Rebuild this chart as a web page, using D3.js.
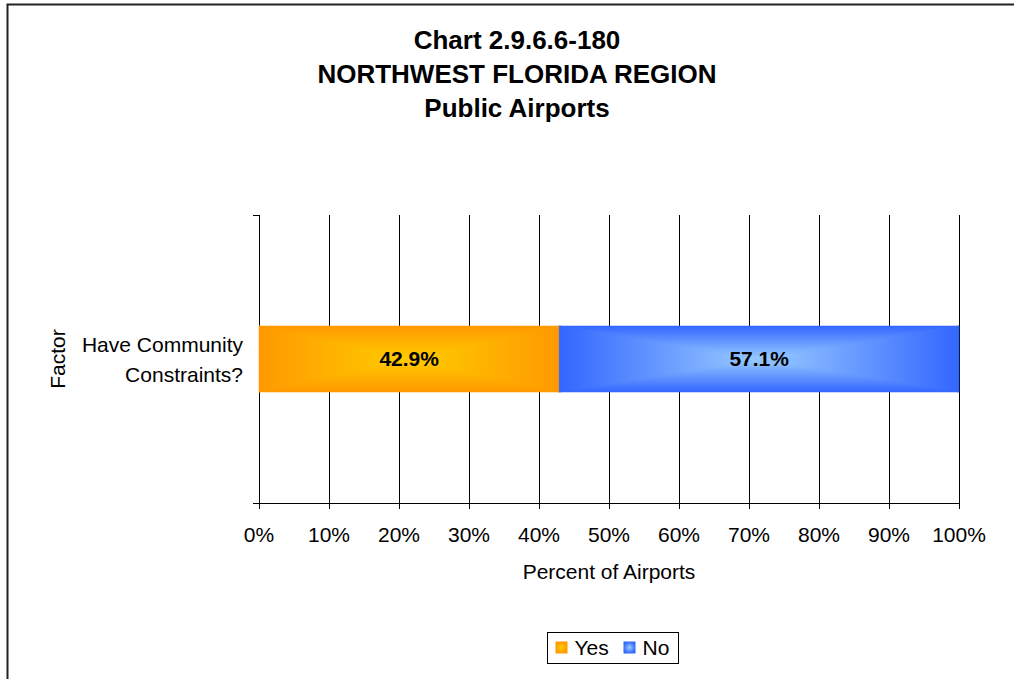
<!DOCTYPE html>
<html>
<head>
    <title>Chart 2.9.6.6-180</title>
    <script src="https://d3js.org/d3.v7.min.js"></script>
    <style>
        body {
            margin: 0;
            background: #fff;
            font-family: "Liberation Sans", Arial, sans-serif;
            overflow: hidden;
        }
        svg {
            display: block;
        }
        .grid line {
            stroke: #000;
            stroke-width: 1;
        }
        .tick-label {
            font-size: 21px;
            fill: #000;
        }
        .title {
            font-size: 26px;
            font-weight: bold;
            text-anchor: middle;
        }
        .bar-label {
            font-size: 21px;
            font-weight: bold;
            text-anchor: middle;
        }
    </style>
</head>
<body>
    <div id="chart"></div>

    <script>
        // Data
        const titleLines = ["Chart 2.9.6.6-180", "NORTHWEST FLORIDA REGION", "Public Airports"];
        const categories = ["Have Community Constraints?"];
        const categoryLines = [["Have Community", "Constraints?"]];
        const seriesNames = ["Yes", "No"];
        const yesValues = [42.9];
        const noValues = [57.1];
        const xTicks = [0, 10, 20, 30, 40, 50, 60, 70, 80, 90, 100];
        const xTickLabels = ["0%", "10%", "20%", "30%", "40%", "50%", "60%", "70%", "80%", "90%", "100%"];
        const seriesColors = [
            {edge: "#ff9900", center: "#ffcc00"},
            {edge: "#3366ff", center: "#99ccff"}
        ];

        const width = 1014;
        const height = 679;
        const margin = {top: 215, right: 55, bottom: 176, left: 259};
        const innerWidth = width - margin.left - margin.right;
        const innerHeight = height - margin.top - margin.bottom;

        const svg = d3.select("#chart").append("svg")
            .attr("width", width)
            .attr("height", height);

        const defs = svg.append("defs");

        // outer frame (only left and top edges are visible)
        svg.append("path")
            .attr("d", `M7.5,${height}V4.5H${width}`)
            .attr("fill", "none")
            .attr("stroke", "#222")
            .attr("stroke-width", 2);

        // title
        svg.selectAll(".title")
            .data(titleLines)
            .enter()
            .append("text")
            .attr("class", "title")
            .attr("x", 517)
            .attr("y", (d, i) => 49 + i * 34)
            .text(d => d);

        const g = svg.append("g")
            .attr("transform", `translate(${margin.left},${margin.top})`);

        const x = d3.scaleLinear()
            .domain([0, 100])
            .range([0, innerWidth]);

        const y = d3.scaleBand()
            .domain(categories)
            .range([0, innerHeight])
            .padding(0.627);

        // vertical gridlines (extend below axis as ticks)
        g.append("g")
            .attr("class", "grid")
            .selectAll("line")
            .data(xTicks)
            .enter()
            .append("line")
            .attr("x1", d => Math.round(x(d)) + 0.5)
            .attr("x2", d => Math.round(x(d)) + 0.5)
            .attr("y1", 0)
            .attr("y2", innerHeight + 6);

        // y axis ticks at category boundaries
        g.append("g")
            .attr("class", "grid")
            .selectAll("line")
            .data([0, innerHeight])
            .enter()
            .append("line")
            .attr("x1", -6)
            .attr("x2", 0.5)
            .attr("y1", d => d + 0.5)
            .attr("y2", d => d + 0.5);

        // x axis line
        g.append("line")
            .attr("x1", -6)
            .attr("x2", innerWidth + 0.5)
            .attr("y1", innerHeight + 0.5)
            .attr("y2", innerHeight + 0.5)
            .attr("stroke", "#000");

        // tick labels
        g.selectAll(".xlabel")
            .data(xTicks)
            .enter()
            .append("text")
            .attr("class", "tick-label")
            .attr("x", d => x(d))
            .attr("y", innerHeight + 39)
            .attr("text-anchor", "middle")
            .text((d, i) => xTickLabels[i]);

        // stacked segments
        const stacked = categories.map((c, i) => {
            const vals = [yesValues[i], noValues[i]];
            let acc = 0;
            return vals.map((v, s) => {
                const seg = {cat: c, series: s, x0: acc, x1: acc + v, value: v};
                acc += v;
                return seg;
            });
        }).flat();

        // rectangular "from center" gradient built of four triangles
        stacked.forEach((d, k) => {
            const x0 = x(d.x0), x1 = x(d.x1);
            const y0 = y(d.cat), y1 = y(d.cat) + y.bandwidth();
            const cx = (x0 + x1) / 2, cy = (y0 + y1) / 2;
            const col = seriesColors[d.series];

            const parts = [
                {pts: [[x0, y0], [x1, y0], [cx, cy]], from: [cx, y0]},
                {pts: [[x0, y1], [x1, y1], [cx, cy]], from: [cx, y1]},
                {pts: [[x0, y0], [x0, y1], [cx, cy]], from: [x0, cy]},
                {pts: [[x1, y0], [x1, y1], [cx, cy]], from: [x1, cy]}
            ];

            g.append("rect")
                .attr("x", x0)
                .attr("y", y0)
                .attr("width", x1 - x0)
                .attr("height", y1 - y0)
                .attr("fill", col.edge);

            parts.forEach((p, j) => {
                const id = `grad-${k}-${j}`;
                const lg = defs.append("linearGradient")
                    .attr("id", id)
                    .attr("gradientUnits", "userSpaceOnUse")
                    .attr("x1", p.from[0]).attr("y1", p.from[1])
                    .attr("x2", cx).attr("y2", cy);
                lg.append("stop").attr("offset", "0%").attr("stop-color", col.edge);
                lg.append("stop").attr("offset", "100%").attr("stop-color", col.center);

                g.append("path")
                    .attr("d", "M" + p.pts.map(q => q.join(",")).join("L") + "Z")
                    .attr("fill", `url(#${id})`)
                    .attr("stroke", `url(#${id})`)
                    .attr("stroke-width", 0.5);
            });

            g.append("text")
                .attr("class", "bar-label")
                .attr("x", cx)
                .attr("y", cy + 7)
                .text(d.value.toFixed(1) + "%");
        });

        // category label
        categories.forEach((c, i) => {
            const cy = y(c) + y.bandwidth() / 2;
            g.selectAll(null)
                .data(categoryLines[i])
                .enter()
                .append("text")
                .attr("class", "tick-label")
                .attr("x", -16)
                .attr("y", (d, j) => cy - 7 + j * 30)
                .attr("text-anchor", "end")
                .text(d => d);
        });

        // axis titles
        g.append("text")
            .attr("class", "tick-label")
            .attr("x", innerWidth / 2)
            .attr("y", innerHeight + 76)
            .attr("text-anchor", "middle")
            .text("Percent of Airports");

        g.append("text")
            .attr("class", "tick-label")
            .attr("transform", "rotate(-90)")
            .attr("x", -(y(categories[0]) + y.bandwidth() / 2))
            .attr("y", -(margin.left - 65))
            .attr("text-anchor", "middle")
            .text("Factor");

        // legend
        const legend = svg.append("g")
            .attr("transform", "translate(547.5,632.5)");

        legend.append("rect")
            .attr("width", 131)
            .attr("height", 31)
            .attr("fill", "#fff")
            .attr("stroke", "#000");

        seriesNames.forEach((name, i) => {
            const col = seriesColors[i];
            const rg = defs.append("radialGradient").attr("id", "leg-" + i);
            rg.append("stop").attr("offset", "0%").attr("stop-color", col.center);
            rg.append("stop").attr("offset", "100%").attr("stop-color", col.edge);

            const ox = [8, 76][i];
            legend.append("rect")
                .attr("x", ox)
                .attr("y", 9)
                .attr("width", 12)
                .attr("height", 12)
                .attr("fill", `url(#leg-${i})`);

            legend.append("text")
                .attr("class", "tick-label")
                .attr("x", ox + 19)
                .attr("y", 22.5)
                .text(name);
        });
    </script>
</body>
</html>
